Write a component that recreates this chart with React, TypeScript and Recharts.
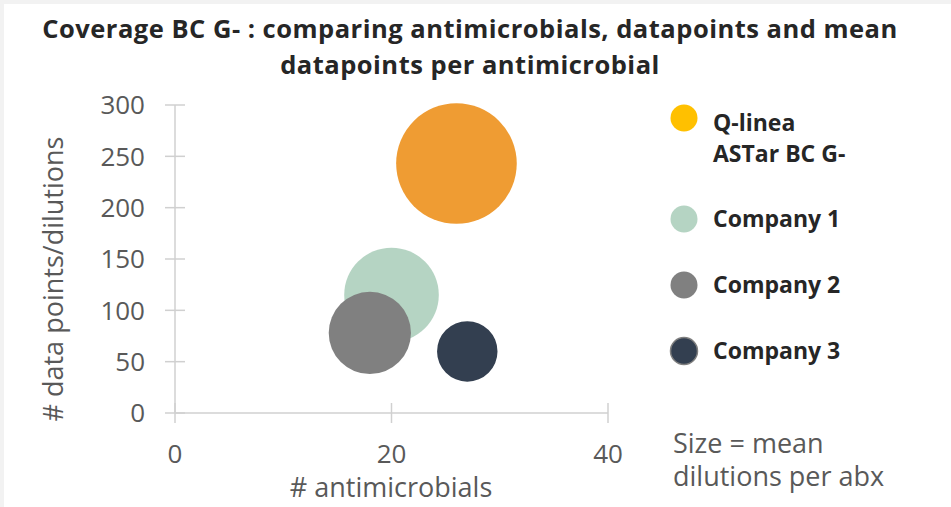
import { ScatterChart, Scatter, XAxis, YAxis, ZAxis } from 'recharts'

// values
const companies = ['Q-linea ASTar BC G-', 'Company 1', 'Company 2', 'Company 3']
const legendLines = [['Q-linea', 'ASTar BC G-'], ['Company 1'], ['Company 2'], ['Company 3']]
const antimicrobials = [26, 20, 18, 27]
const dataPoints = [243, 115, 78, 60]
const meanDilutions = [9.35, 5.75, 4.35, 2.35]
const xTicks = [0, 20, 40]
const yTicks = [0, 50, 100, 150, 200, 250, 300]

const bubbleColors = ['#EF9C33', '#B5D4C3', '#808080', '#333F50']
const legendColors = ['#FFC000', '#B5D4C3', '#808080', '#333F50']

const AXIS = '#D0D0D0'
const TEXT = '#595959'
const DARK = '#262626'
const FONT = '"Open Sans", sans-serif'

const series = companies.map((name, i) => ({
  name,
  data: [{ x: antimicrobials[i], y: dataPoints[i], z: meanDilutions[i] }],
}))

const XTick = (props: any) => {
  const { x, y, payload } = props
  return (
    <g>
      <line x1={x} x2={x} y1={y - 10} y2={y + 10} stroke={AXIS} strokeWidth={1.5} />
      <text x={x} y={y + 50} textAnchor="middle" fill={TEXT} fontSize={26} fontFamily={FONT}>
        {payload.value}
      </text>
    </g>
  )
}

const YTick = (props: any) => {
  const { x, y, payload } = props
  return (
    <g>
      <line x1={x - 10} x2={x + 10} y1={y} y2={y} stroke={AXIS} strokeWidth={1.5} />
      <text x={x - 30} y={y + 9.3} textAnchor="end" fill={TEXT} fontSize={26} fontFamily={FONT}>
        {payload.value}
      </text>
    </g>
  )
}

const legendRows = [118, 219, 285, 351]

export default function App() {
  return (
    <div style={{ position: 'absolute', left: 0, top: 0, width: 951, height: 507, background: '#F2F2F2', fontFamily: FONT }}>
      <div style={{ position: 'absolute', left: 4, top: 4, width: 947, height: 503, background: '#fff' }} />
      <div style={{ position: 'absolute', left: 0, top: 0 }}>
        <ScatterChart width={951} height={507} margin={{ top: 105, right: 343, bottom: 54, left: 75 }}>
          <XAxis
            type="number"
            dataKey="x"
            domain={[0, 40]}
            ticks={xTicks}
            height={40}
            axisLine={{ stroke: AXIS, strokeWidth: 1.5 }}
            tickLine={false}
            tickSize={0}
            tickMargin={0}
            tick={<XTick />}
            interval={0}
          />
          <YAxis
            type="number"
            dataKey="y"
            domain={[0, 300]}
            ticks={yTicks}
            width={100}
            axisLine={{ stroke: AXIS, strokeWidth: 1.5 }}
            tickLine={false}
            tickSize={0}
            tickMargin={0}
            tick={<YTick />}
            interval={0}
          />
          <ZAxis type="number" dataKey="z" domain={[0, 10]} range={[0, 12217]} />
          {series.map((s, i) => (
            <Scatter key={s.name} name={s.name} data={s.data} fill={bubbleColors[i]} isAnimationActive={false} />
          ))}
        </ScatterChart>
      </div>
      <svg width={951} height={507} style={{ position: 'absolute', left: 0, top: 0, pointerEvents: 'none' }}>
        <text x={470} y={37.5} textAnchor="middle" fontSize={25.5} letterSpacing={0.5} fontWeight={700} fill={DARK}>
          Coverage BC G- : comparing antimicrobials, datapoints and mean
        </text>
        <text x={470} y={73.5} textAnchor="middle" fontSize={25.5} letterSpacing={0.5} fontWeight={700} fill={DARK}>
          datapoints per antimicrobial
        </text>
        <text x={391} y={497} textAnchor="middle" fontSize={27} fill={TEXT}>
          # antimicrobials
        </text>
        <text
          x={53}
          y={279}
          dy="0.36em"
          textAnchor="middle"
          fontSize={27}
          fill={TEXT}
          transform="rotate(-90 53 279)"
        >
          # data points/dilutions
        </text>
        {legendLines.map((lines, i) => (
          <g key={i}>
            <circle
              cx={684}
              cy={legendRows[i]}
              r={13.5}
              fill={legendColors[i]}
              stroke={i === 3 ? '#7F7F7F' : 'none'}
              strokeWidth={1.5}
            />
            {lines.map((t, j) => (
              <text
                key={j}
                x={713}
                y={legendRows[i] + (i === 0 ? 12.5 : 8.2) + j * 31}
                fontSize={23}
                fontWeight={700}
                fill={DARK}
              >
                {t}
              </text>
            ))}
          </g>
        ))}
        <text x={673} y={453} fontSize={27} fill={TEXT}>
          Size = mean
        </text>
        <text x={673} y={486} fontSize={27} fill={TEXT}>
          dilutions per abx
        </text>
      </svg>
    </div>
  )
}
